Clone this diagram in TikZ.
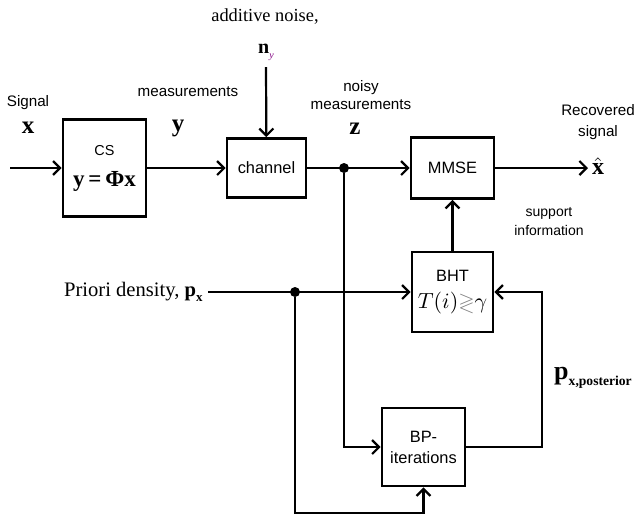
\documentclass[tikz,border=0pt]{standalone}
\usepackage{amsmath}
\usepackage{amssymb}
\usepackage{fontspec}
\setmainfont{Liberation Serif}
\setsansfont{Liberation Sans}
\usetikzlibrary{arrows.meta}

\tikzset{
  block/.style={draw, line width=1.4pt, inner sep=0pt, align=center,
                font=\sffamily\fontsize{8.2}{10.5}\selectfont},
  lbl/.style={inner sep=0pt, align=center, font=\sffamily\fontsize{7.6}{9}\selectfont},
  sym/.style={inner sep=0pt, font=\bfseries\fontsize{12.5}{13}\selectfont},
  wire/.style={line width=1.1pt},
  jdot/.style={circle, fill, inner sep=0pt, minimum size=5pt}
}

\begin{document}
\begin{tikzpicture}[x=0.5pt, y=-0.5pt, >={Straight Barb[length=3.5pt,width=7pt]}]
  \useasboundingbox (0,0) rectangle (637,516);

  % blocks
  \node[block, minimum width=41.5pt, minimum height=48.5pt] (cs) at (104.5,168)
    {{\fontsize{7.2}{8}\selectfont CS}\\[5pt]{\rmfamily\bfseries\fontsize{11.5}{12}\selectfont y\,=\,Φx}};
  \node[block, minimum width=39.5pt, minimum height=29.5pt] (channel) at (266.5,168) {channel};
  \node[block, minimum width=41.5pt, minimum height=30.5pt] (mmse) at (452.5,168) {MMSE};
  \node[block, minimum width=40.5pt, minimum height=40pt] (bht) at (452.5,292)
    {BHT\\[3pt]{\rmfamily\fontsize{10.5}{12}\selectfont $T(i)\textcolor{gray}{\gtrless}\gamma$}};
  \node[block, minimum width=41.5pt, minimum height=39pt] (bp) at (423.5,447) {BP-\\iterations};

  % labels
  \node[lbl] (siglbl) at (28,103) {Signal};
  \node[sym] (xsym) at (28,128) {x};
  \node[lbl] (measlbl) at (188,92) {measurements};
  \node[sym] (ysym) at (178,128) {y};
  \node[inner sep=0pt, font=\fontsize{9.2}{10}\selectfont] (noiselbl) at (265,17) {additive noise,};
  \node[inner sep=0pt, font=\fontsize{10}{11}\selectfont] (nysym) at (266,52)
    {\textbf{n}\raisebox{-2.5pt}{\fontsize{5}{5}\selectfont\textit{\textcolor{violet}{y}}}};
  \node[lbl] (noisylbl) at (361,95) {noisy\\measurements};
  \node[sym] (zsym) at (355,129) {z};
  \node[lbl, font=\sffamily\fontsize{7.6}{10.5}\selectfont] (reclbl) at (598,122) {Recovered\\signal};
  \node[inner sep=0pt, font=\fontsize{12}{13}\selectfont] (xhat) at (598,166) {$\hat{\mathbf{x}}$};
  \node[lbl, font=\sffamily\fontsize{7}{9.5}\selectfont] (suplbl) at (549,222) {support\\information};
  \node[inner sep=0pt, anchor=east, font=\fontsize{10.3}{11}\selectfont] (prior) at (203,292)
    {Priori density,\ \textbf{p}\raisebox{-2.5pt}{\fontsize{6.5}{7}\selectfont\textbf{x}}};
  \node[inner sep=0pt, font=\fontsize{13}{14}\selectfont] (post) at (593,378)
    {\textbf{p}\raisebox{-3pt}{\fontsize{6.8}{7}\selectfont\textbf{x,posterior}}};

  % free ends and corners
  \coordinate (in) at (10,168);
  \coordinate (out) at (588,168);
  \coordinate (nz) at (266,67);
  \coordinate (pin) at (208,292);
  \coordinate (low) at (295,513);
  \coordinate (fb) at (542,447);
  \node[jdot] (j1) at (344,168) {};
  \node[jdot] (j2) at (295,292) {};

  % connectors
  \draw[wire,->] (in) -- (cs);
  \draw[wire,->] (cs) -- (channel);
  \draw[wire,->] (nz) -- (channel);
  \draw[wire,->] (channel) -- (mmse);
  \draw[wire,->] (mmse) -- (out);
  \draw[wire,->] (bht) -- (mmse);
  \draw[wire,->] (pin) -- (bht.west);
  \draw[wire,->] (j1) |- (bp.west);
  \draw[wire,->] (j2) -- (low) -| (bp.south);
  \draw[wire,->] (bp.east) -- (fb) |- (bht.east);
\end{tikzpicture}
\end{document}
